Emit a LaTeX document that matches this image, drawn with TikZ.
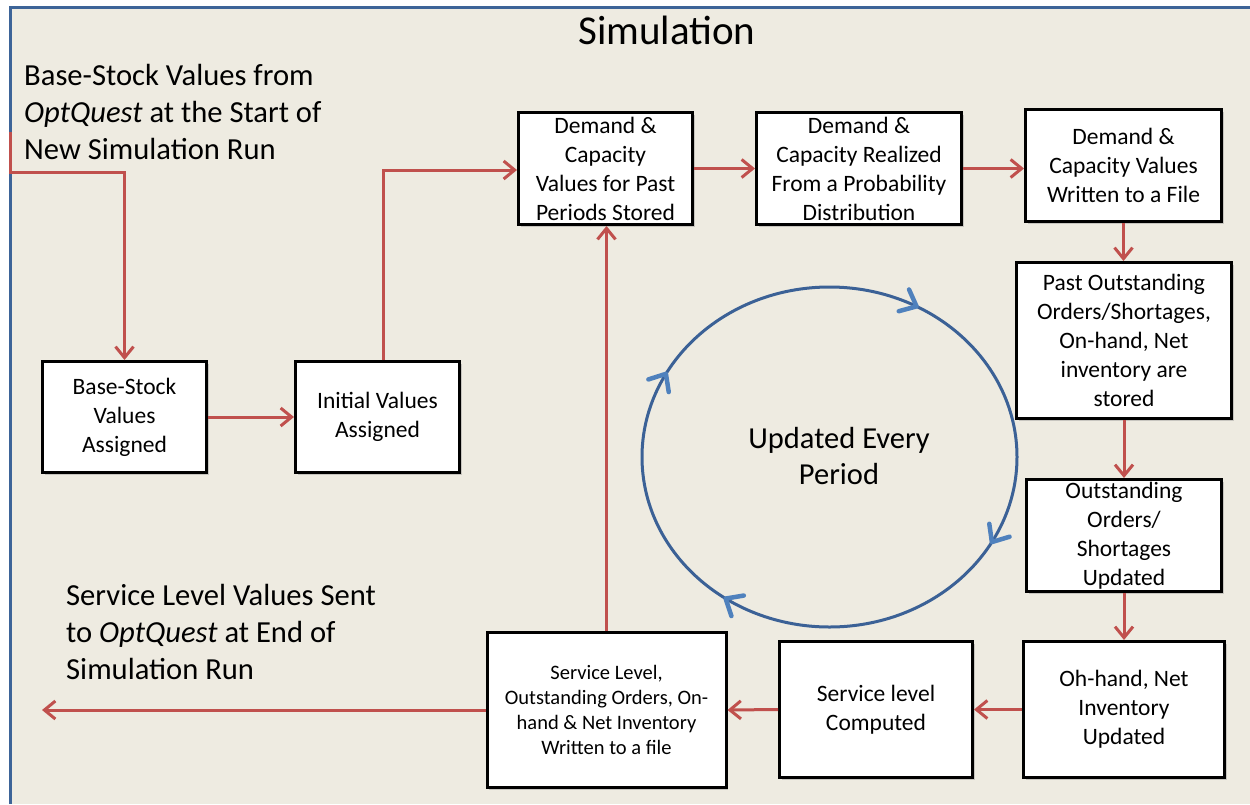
\documentclass[tikz,border=0pt]{standalone}
\usepackage{fontspec}
\setmainfont{Carlito}
\usetikzlibrary{arrows.meta,decorations.markings,shadows}
\definecolor{bgbeige}{HTML}{EEEBE1}
\definecolor{framblue}{HTML}{3D6498}
\definecolor{arrred}{HTML}{C0504D}
\definecolor{circblue}{HTML}{3B6196}
\definecolor{tipblue}{HTML}{4F81BD}
\tikzset{
  box/.style={draw=black, line width=3pt, fill=white, align=center, inner sep=0pt,
    font=\fontsize{23.5}{29}\selectfont,
    drop shadow={shadow xshift=2pt, shadow yshift=-2pt, opacity=0.35}},
  flow/.style={draw=arrred, line width=3pt,
    -{Straight Barb[length=11pt,width=18pt,line width=3pt]}},
  bigtext/.style={font=\fontsize{30.6}{37}\selectfont, align=left, inner sep=0pt},
  cyctip/.style={draw=tipblue, line width=4.5pt, line cap=round, line join=round},
}
\newcommand{\cyclehead}{\draw[cyctip] (14pt,12pt) -- (0pt,0pt) -- (14pt,-12pt);}
\begin{document}
\begin{tikzpicture}[x=1pt,y=-1pt]
\useasboundingbox (0,0) rectangle (1250,804);
\fill[white] (0,0) rectangle (1250,804);
\fill[bgbeige] (10,7) rectangle (1250,804);
\draw[framblue, line width=3pt] (10,804) -- (10,7) -- (1250,7);

\node[font=\fontsize{41}{48}\selectfont, inner sep=0pt] (title) at (667,30) {Simulation};

\node[bigtext, anchor=west] (intext) at (24,112) {Base-Stock Values from\\\textit{OptQuest} at the Start of\\New Simulation Run};
\node[bigtext, anchor=west] (outtext) at (66,632) {Service Level Values Sent\\to \textit{OptQuest} at End of\\Simulation Run};

% boxes
\node[box, minimum width=164pt, minimum height=111pt] (b1) at (124.5,417) {Base-Stock\\Values\\Assigned};
\node[box, minimum width=164pt, minimum height=111pt] (b2) at (377.5,417) {Initial Values\\Assigned};
\node[box, minimum width=174pt, minimum height=112pt] (b3) at (605.5,168.5) {Demand \&\\Capacity\\Values for Past\\Periods Stored};
\node[box, minimum width=205pt, minimum height=112pt] (b4) at (859,168.5) {Demand \&\\Capacity Realized\\From a Probability\\Distribution};
\node[box, minimum width=196pt, minimum height=112pt] (b5) at (1123.5,165.5) {Demand \&\\Capacity Values\\Written to a File};
\node[box, minimum width=215pt, minimum height=156pt] (b6) at (1124,340.5) {Past Outstanding\\Orders/Shortages,\\On-hand, Net\\inventory are\\stored};
\node[box, minimum width=195pt, minimum height=112pt] (b7) at (1124,535.5) {Outstanding\\Orders/\\Shortages\\Updated};
\node[box, minimum width=201pt, minimum height=136pt] (b8) at (1124,709.5) {Oh-hand, Net\\Inventory\\Updated};
\node[box, minimum width=193pt, minimum height=136pt] (b9) at (876,709.5) {Service level\\Computed};
\node[box, minimum width=239pt, minimum height=155pt, font=\fontsize{20.5}{25}\selectfont] (b10) at (606.5,710) {Service Level,\\Outstanding Orders, On-\\hand \& Net Inventory\\Written to a file};

% cycle
\node[font=\fontsize{30.5}{36}\selectfont, align=center, inner sep=0pt] (cyc) at (839,456) {Updated Every\\Period};
\draw[circblue, line width=3pt, postaction={decorate}, decoration={markings,
  mark=at position 0.17 with {\cyclehead},
  mark=at position 0.422 with {\cyclehead},
  mark=at position 0.653 with {\cyclehead},
  mark=at position 0.92 with {\cyclehead}}]
  (829.5,457) ellipse [x radius=187.5pt, y radius=170pt];

% connectors
\coordinate (src) at (10,132);
\coordinate (sink) at (42,710);
\draw[flow] (src) -- ++(0,40) -| (b1.north);
\draw[flow] (b1.east) -- (b2.west);
\draw[flow] ([xshift=5.5pt]b2.north) |- ([yshift=-1.5pt]b3.west);
\draw[flow] (b3.east) -- (b4.west);
\draw[flow] (b4.east) -- (b4.east -| b5.west);
\draw[flow] (b5.south) -- (b5.south |- b6.north);
\draw[flow] (b6.south) -- (b6.south |- b7.north);
\draw[flow] (b7.south) -- (b7.south |- b8.north);
\draw[flow] (b8.west) -- (b9.east);
\draw[flow] (b9.west) -- (b10.east);
\draw[flow] (b10.west) -- (sink);
\draw[flow] (b10.north) -- (b10.north |- b3.south);
\end{tikzpicture}
\end{document}
